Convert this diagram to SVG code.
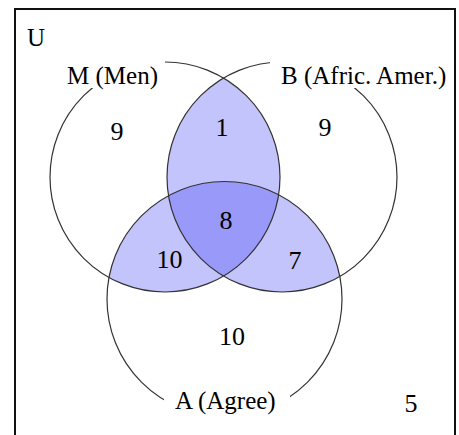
<svg xmlns="http://www.w3.org/2000/svg" width="459" height="435" viewBox="0 0 459 435">
<style>
.t{font-family:"Liberation Serif","Times New Roman",serif;font-size:25px;fill:#000}
.n{font-family:"Liberation Serif","Times New Roman",serif;font-size:26px;fill:#000;text-anchor:middle}
.c{fill:none;stroke:#333;stroke-width:1.2}
.lt{fill:#c4c4fc}
.dk{fill:#9999fa}
.bg{fill:#fff}
</style>
<defs>
<clipPath id="cM"><circle cx="165" cy="177" r="115"/></clipPath>
<clipPath id="cB"><circle cx="282" cy="177" r="115"/></clipPath>
<clipPath id="cA"><circle cx="224.5" cy="299" r="117.5"/></clipPath>
</defs>
<rect x="0" y="0" width="459" height="435" fill="#fff"/>
<rect id="universe" x="15" y="9" width="440" height="440" fill="none" stroke="#111" stroke-width="2"/>
<g id="fills">
<circle class="lt" cx="282" cy="177" r="115" clip-path="url(#cM)"/>
<circle class="lt" cx="224.5" cy="299" r="117.5" clip-path="url(#cM)"/>
<circle class="lt" cx="224.5" cy="299" r="117.5" clip-path="url(#cB)"/>
<g clip-path="url(#cM)"><circle class="dk" cx="224.5" cy="299" r="117.5" clip-path="url(#cB)"/></g>
</g>
<g id="M"><circle class="c" cx="165" cy="177" r="115"/></g>
<g id="B"><circle class="c" cx="282" cy="177" r="115"/></g>
<g id="A"><circle class="c" cx="224.5" cy="299" r="117.5"/></g>
<g id="labelU"><text class="t" x="27" y="46">U</text></g>
<g id="labelM"><rect class="bg" x="60" y="57" width="105" height="31"/><text class="t" x="67" y="84">M (Men)</text></g>
<g id="labelB"><rect class="bg" x="270" y="57" width="184" height="31"/><text class="t" x="281" y="84">B (Afric. Amer.)</text></g>
<g id="labelA"><rect class="bg" x="164" y="386" width="126" height="34"/><text class="t" x="175" y="409">A (Agree)</text></g>
<g id="counts">
<text class="n" x="117" y="140">9</text>
<text class="n" x="222" y="136">1</text>
<text class="n" x="325" y="136">9</text>
<text class="n" x="226" y="229">8</text>
<text class="n" x="169.5" y="268">10</text>
<text class="n" x="295" y="269">7</text>
<text class="n" x="232" y="345">10</text>
<text class="n" x="411" y="412">5</text>
</g>
</svg>
